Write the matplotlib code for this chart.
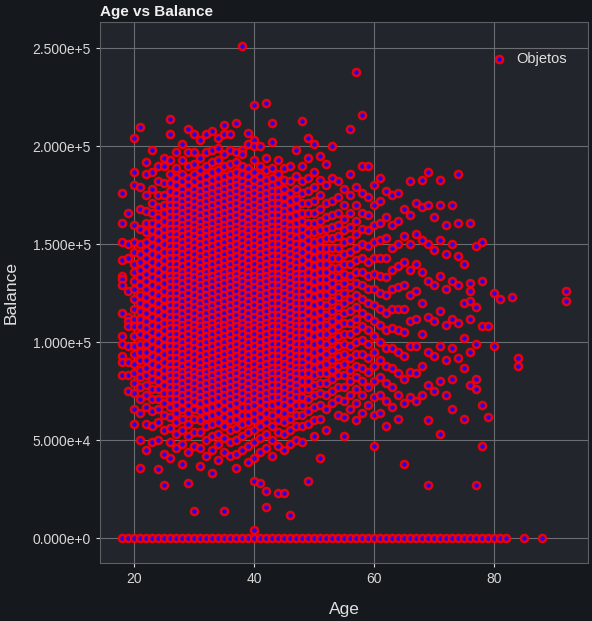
import matplotlib.pyplot as plt
import numpy as np

# ages that have clients with zero balance (the flat row at the bottom)
zero_ages = [18, 19, 20, 21, 22, 23, 24, 25, 26, 27, 28, 29, 30, 31, 32, 33, 34,
             35, 36, 37, 38, 39, 40, 41, 42, 43, 44, 45, 46, 47, 48, 49, 50, 51,
             52, 53, 54, 55, 56, 57, 58, 59, 60, 61, 62, 63, 64, 65, 66, 67, 68,
             69, 70, 71, 72, 73, 74, 75, 76, 77, 78, 79, 80, 81, 82, 85, 88]

# non zero balances, in thousands, one row per age
ages = [18, 19, 20, 21, 22, 23, 24, 25, 26, 27, 28, 29, 30, 31, 32, 33, 34, 35,
        36, 37, 38, 39, 40, 41, 42, 43, 44, 45, 46, 47, 48, 49, 50, 51, 52, 53,
        54, 55, 56, 57, 58, 59, 60, 61, 62, 63, 64, 65, 66, 67, 68, 69, 70, 71,
        72, 73, 74, 75, 76, 77, 78, 79, 80, 81, 83, 84, 92]
balances_k = [
    "176 161 151 142 134 132 129 115 103 99 93 90 83",
    "166 150 143 126 113 111 108 98 90 83 75",
    "204 187 180 160 151 146 140 136 131 127 122 117 112 108 103 98 94 89 84 79 74 66 58",
    "210 179 168 158 150 145 141 137 133 129 124 120 116 112 108 104 99 95 91 86 82 77 71 64 50 36",
    "192 186 175 167 161 156 151 147 143 139 135 131 127 123 119 115 111 107 103 99 95 91 87 83 78 73 67 58 45",
    "198 187 178 171 166 161 157 153 149 145 141 137 133 129 125 121 117 113 109 105 101 97 93 89 85 81 76 71 65 57 49",
    "190 182 175 169 164 160 156 152 148 144 140 136 132 128 124 120 116 112 108 104 100 96 92 88 84 80 76 71 66 59 50 35",
    "194 190 181 175 170 166 162 158 154 150 146 142 138 134 130 126 122 118 114 110 106 102 98 94 90 86 82 78 74 69 63 55 43 27",
    "214 206 193 186 181 177 173 170 167 164 161 158 155 152 149 146 143 140 137 134 131 128 125 122 119 116 113 110 107 104 101 98 95 92 89 86 83 80 77 74 71 67 62 56 49 41",
    "197 189 184 180 176 173 170 167 164 161 158 155 152 149 146 143 140 137 134 131 128 125 122 119 116 113 110 107 104 101 98 95 92 89 86 83 80 77 74 71 68 64 59 53 46",
    "201 193 186 182 178 175 172 169 166 163 160 157 154 151 148 145 142 139 136 133 130 127 124 121 118 115 112 109 106 103 100 97 94 91 88 85 82 79 76 73 70 66 61 55 48 38",
    "209 197 190 184 180 176 173 170 167 164 161 158 155 152 149 146 143 140 137 134 131 128 125 122 119 116 113 110 107 104 101 98 95 92 89 86 83 80 77 74 71 68 64 58 52 44 28",
    "206 197 191 186 182 178 175 172 169 166 163 160 157 154 151 148 145 142 139 136 133 130 127 124 121 118 115 112 109 106 103 100 97 94 91 88 85 82 79 76 73 70 66 61 54 47 14",
    "203 194 188 184 180 177 174 171 168 165 162 159 156 153 150 147 144 141 138 135 132 129 126 123 120 117 114 111 108 105 102 99 96 93 90 87 84 81 78 75 72 69 65 60 54 46 37",
    "206 197 190 185 181 178 175 172 169 166 163 160 157 154 151 148 145 142 139 136 133 130 127 124 121 118 115 112 109 106 103 100 97 94 91 88 85 82 79 76 73 70 66 62 57 50 42",
    "208 198 192 187 183 179 176 173 170 167 164 161 158 155 152 149 146 143 140 137 134 131 128 125 122 119 116 113 110 107 104 101 98 95 92 89 86 83 80 77 74 71 67 63 58 52 45 33",
    "204 199 193 188 184 180 177 174 171 168 165 162 159 156 153 150 147 144 141 138 135 132 129 126 123 120 117 114 111 108 105 102 99 96 93 90 87 84 81 78 75 72 68 64 59 53 48 40",
    "211 206 196 190 185 181 178 175 172 169 166 163 160 157 154 151 148 145 142 139 136 133 130 127 124 121 118 115 112 109 106 103 100 97 94 91 88 85 82 79 76 73 70 66 62 57 51 44 14",
    "206 198 191 186 182 179 176 173 170 167 164 161 158 155 152 149 146 143 140 137 134 131 128 125 122 119 116 113 110 107 104 101 98 95 92 89 86 83 80 77 74 71 68 64 60 55 49 42",
    "212 197 192 187 183 180 177 174 171 168 165 162 159 156 153 150 147 144 141 138 135 132 129 126 123 120 117 114 111 108 105 102 99 96 93 90 87 84 81 78 75 72 69 65 61 56 50 43 36",
    "251 198 196 190 186 182 179 176 173 170 167 164 161 158 155 152 149 146 143 140 137 134 131 128 125 122 119 116 113 110 107 104 101 98 95 92 89 86 83 80 77 74 71 67 63 58 52 45",
    "207 201 189 185 181 178 175 172 169 166 163 160 157 154 151 148 145 142 139 136 133 130 127 124 121 118 115 112 109 106 103 100 97 94 91 88 85 82 79 76 73 70 67 63 59 54 47 39",
    "221 203 200 193 187 183 179 176 173 170 167 164 161 158 155 152 149 146 143 140 137 134 131 128 125 122 119 116 113 110 107 104 101 98 95 92 89 86 83 80 77 74 71 68 64 60 55 49 41 29 4",
    "200 190 185 181 178 175 172 169 166 163 160 157 154 151 148 145 142 139 136 133 130 127 124 121 118 115 112 109 106 103 100 97 94 91 88 85 82 79 76 73 70 66 62 57 51 44 28",
    "222 194 188 183 179 176 173 170 167 164 161 158 155 152 149 146 143 140 137 134 131 128 125 122 119 116 113 110 107 104 101 98 95 92 89 86 83 80 77 74 71 68 64 59 53 46 24 16",
    "212 202 189 184 180 177 174 171 168 165 162 159 156 153 150 147 144 141 138 135 132 129 126 123 120 117 114 111 108 105 102 99 96 93 90 87 84 81 78 75 72 68 63 57 50 42",
    "193 186 181 177 174 171 168 165 162 159 156 153 150 147 144 141 138 135 132 129 126 123 120 117 114 111 108 105 102 99 96 93 90 87 84 81 78 75 72 69 65 60 54 47 23",
    "189 183 178 174 170 167 164 161 158 155 152 149 146 143 140 137 134 131 128 125 122 119 116 113 110 107 104 101 98 95 92 89 86 83 80 77 74 71 68 64 59 53 45 23",
    "190 182 176 172 168 164 160 157 154 151 148 145 142 139 136 133 130 127 124 121 118 115 112 109 106 103 100 97 94 91 88 85 82 79 76 73 70 66 61 55 48 12",
    "198 185 178 173 169 165 161 157 153 150 147 144 141 138 135 132 129 126 123 120 117 114 111 108 105 102 99 96 93 90 87 84 81 78 75 72 68 63 57 50",
    "213 190 182 176 171 166 162 158 154 150 146 142 138 135 132 129 126 123 120 117 114 111 108 105 102 99 96 93 90 87 84 80 76 72 68 63 57 49",
    "204 194 184 177 171 166 161 156 152 148 144 140 136 132 128 124 120 116 112 108 104 100 96 92 88 84 80 76 71 65 58 29",
    "201 187 179 172 166 161 156 151 147 143 139 135 131 127 123 119 115 111 107 103 99 95 91 87 83 78 73 67 60 52",
    "195 183 175 168 162 157 152 148 144 140 136 132 128 124 120 116 112 108 104 100 96 92 88 84 79 74 68 61 41",
    "191 180 171 164 158 153 148 144 140 136 132 128 124 119 114 109 104 99 94 89 84 79 73 66 55",
    "200 184 172 165 159 153 148 143 138 134 130 126 121 116 111 106 101 96 91 86 81 75 69",
    "182 174 166 160 154 148 143 138 133 128 123 118 113 108 103 98 93 88 83 77 71 63",
    "178 170 163 157 151 145 140 135 130 125 120 115 110 104 99 94 89 83 77 70 62 52",
    "209 186 175 166 159 152 146 140 134 128 122 116 110 104 98 92 86 80 73 66",
    "238 179 170 162 155 148 142 136 130 124 118 112 106 100 94 88 82 76 69 60",
    "216 190 176 166 158 150 143 136 129 122 115 108 101 94 87 80 73 64",
    "190 174 165 157 149 141 134 127 120 113 106 99 92 85 77 68",
    "180 170 160 151 143 135 127 119 111 103 95 88 80 72 63 47",
    "184 172 161 152 143 134 125 117 109 100 91 82 73 64",
    "177 164 153 143 133 124 115 106 97 88 79 70 57",
    "175 160 148 137 127 117 107 97 87 77 67",
    "176 162 150 139 128 117 106 95 84 73 61",
    "168 154 141 129 117 105 93 81 69 38",
    "182 165 150 137 124 111 98 85 72",
    "171 155 140 126 112 98 84 70",
    "183 169 152 136 120 104 88 73",
    "187 170 150 131 113 95 78 60 27",
    "164 147 129 111 93 75",
    "183 170 152 134 116 98 80 53",
    "160 145 127 109 91 73",
    "170 150 131 112 97 81 66",
    "186 161 144 129 110 92",
    "140 120 102 87 61",
    "161 130 126 121 112 95 78",
    "149 118 99 81 76 27",
    "151 131 108 68 47",
    "108 62",
    "125 98",
    "122",
    "123",
    "92 88",
    "126 121",
]

x = []
y = []
for age, row in zip(ages, balances_k):
    for v in row.split():
        x.append(age)
        y.append(float(v) * 1000)
x += zero_ages
y += [0.0] * len(zero_ages)

plt.rcParams['font.family'] = ['Liberation Sans', 'DejaVu Sans']
fig = plt.figure(figsize=(5.92, 6.21), dpi=100, facecolor='#15181c')
ax = fig.add_axes([0.169, 0.094, 0.824, 0.871])
ax.set_facecolor('#22262c')

ax.scatter(x, y, s=26, c='#1e00ff', edgecolors='#ff0000', linewidths=1.8,
           alpha=0.9, label='Objetos', zorder=3)

ax.grid(True, color='#6a6e73', linewidth=0.8)
for sp in ax.spines.values():
    sp.set_color('#5c6065')
ax.tick_params(colors='#d8d8d8', labelsize=10, length=3)

ax.set_yticks([0, 50000, 100000, 150000, 200000, 250000])
ax.set_yticklabels(['0.000e+0', '5.000e+4', '1.000e+5', '1.500e+5', '2.000e+5', '2.500e+5'])
ax.set_xticks([20, 40, 60, 80])

ax.set_xlabel('Age', color='#e0e0e0', fontsize=12.5, labelpad=12)
ax.set_ylabel('Balance', color='#e0e0e0', fontsize=12.5, labelpad=10)
ax.set_title('Age vs Balance', loc='left', color='#f0f0f0', fontsize=11,
             fontweight='bold', pad=4)

leg = ax.legend(loc='upper right', bbox_to_anchor=(0.984, 0.969), frameon=False,
                fontsize=10.5, handletextpad=0.2)
for t in leg.get_texts():
    t.set_color('#e0e0e0')

plt.savefig('out.png', facecolor=fig.get_facecolor())
